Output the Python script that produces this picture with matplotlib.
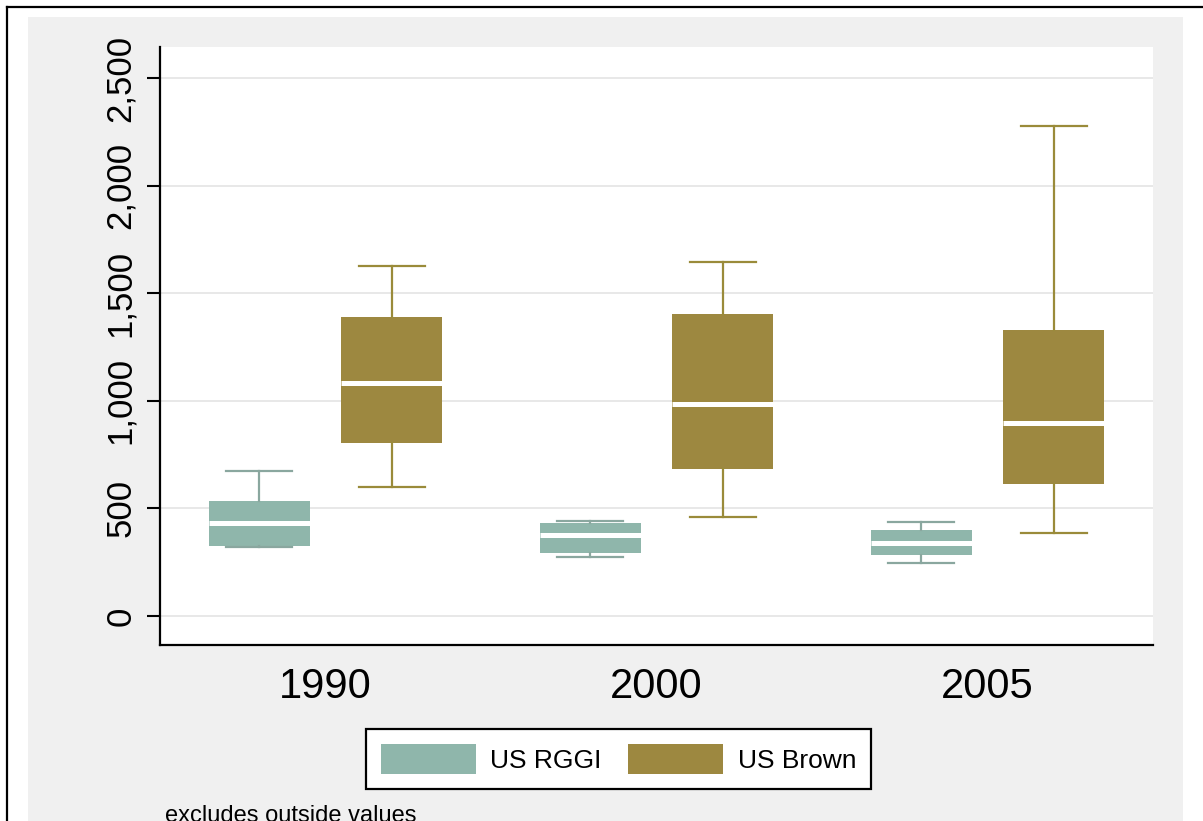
import matplotlib
matplotlib.use("Agg")
import matplotlib.pyplot as plt
from matplotlib.patches import Rectangle, Patch
from matplotlib.lines import Line2D

# Categories and five-number summaries (whisker low, Q1, median, Q3, whisker high)
years = ["1990", "2000", "2005"]

rggi_whislo = [320, 276, 245]
rggi_q1 = [326, 294, 283]
rggi_med = [432, 376, 341]
rggi_q3 = [534, 431, 400]
rggi_whishi = [674, 441, 435]

brown_whislo = [599, 461, 384]
brown_q1 = [804, 682, 613]
brown_med = [1081, 984, 898]
brown_q3 = [1391, 1402, 1329]
brown_whishi = [1628, 1646, 2277]

y_ticks = [0, 500, 1000, 1500, 2000, 2500]
y_ticklabels = ["0", "500", "1,000", "1,500", "2,000", "2,500"]

series_names = ["US RGGI", "US Brown"]
fill_colors = ["#8fb6ab", "#9d8840"]
whisker_colors = ["#8aa79f", "#9a8b3a"]

FONT = ["Liberation Sans", "DejaVu Sans"]

W, H = 1203, 821
fig = plt.figure(figsize=(W / 100, H / 100), dpi=100, facecolor="white")

# Graph region background and outer frame
fig.patches.append(Rectangle((28 / W, 0), (1183 - 28) / W, 1 - 17 / H,
                             transform=fig.transFigure, facecolor="#f0f0f0",
                             edgecolor="none", zorder=-5))
fig.lines.append(Line2D([7 / W, 7 / W], [0, 1 - 7 / H], transform=fig.transFigure,
                        color="black", lw=1.6, zorder=-4))
fig.lines.append(Line2D([7 / W, 1], [1 - 7 / H, 1 - 7 / H], transform=fig.transFigure,
                        color="black", lw=1.6, zorder=-4))

ax = fig.add_axes([160 / W, (H - 645) / H, (1153 - 160) / W, (645 - 47) / H])
ax.set_facecolor("white")
ax.set_zorder(1)


def stats(lo, q1, med, q3, hi):
    return [dict(whislo=a, q1=b, med=c, q3=d, whishi=e, fliers=[])
            for a, b, c, d, e in zip(lo, q1, med, q3, hi)]


groups = [
    stats(rggi_whislo, rggi_q1, rggi_med, rggi_q3, rggi_whishi),
    stats(brown_whislo, brown_q1, brown_med, brown_q3, brown_whishi),
]
offsets = [-0.2, 0.2]
centers = list(range(1, len(years) + 1))

for s, off, fc, wc in zip(groups, offsets, fill_colors, whisker_colors):
    ax.bxp(s, positions=[c + off for c in centers], widths=0.305,
           capwidths=0.2, patch_artist=True, showfliers=False,
           boxprops=dict(facecolor=fc, edgecolor=fc, linewidth=0),
           medianprops=dict(color="white", linewidth=3.6, solid_capstyle="butt"),
           whiskerprops=dict(color=wc, linewidth=1.6),
           capprops=dict(color=wc, linewidth=1.6),
           manage_ticks=False, zorder=3)

ax.set_xlim(0.5, 3.5)
ax.set_ylim(-135, 2644)

ax.set_yticks(y_ticks)
ax.set_yticklabels(y_ticklabels, rotation=90, va="center", family=FONT, fontsize=25)
ax.set_xticks(centers)
ax.set_xticklabels(years, family=FONT, fontsize=30)
ax.tick_params(axis="x", length=0, pad=16)
ax.tick_params(axis="y", length=9.4, width=1.5, pad=7, direction="out")

ax.grid(axis="y", color="#e4e4e4", linewidth=1.2, zorder=0)
ax.set_axisbelow(True)
for side in ["top", "right"]:
    ax.spines[side].set_visible(False)
for side in ["left", "bottom"]:
    ax.spines[side].set_linewidth(1.6)
    ax.spines[side].set_color("black")

handles = [Patch(facecolor=c, edgecolor="none") for c in fill_colors]
leg = fig.legend(handles, series_names, loc="center",
                 bbox_to_anchor=(618.5 / W, 1 - 759 / H), ncol=2,
                 prop=dict(family=FONT, size=19), frameon=True, fancybox=False,
                 framealpha=1.0, handlelength=3.6, handleheight=1.4,
                 handletextpad=0.55, columnspacing=1.0, borderpad=0.55,
                 borderaxespad=0)
leg.get_frame().set_edgecolor("black")
leg.get_frame().set_linewidth(1.6)
leg.get_frame().set_facecolor("white")

fig.text(165 / W, -1 / H, "excludes outside values", family=FONT, fontsize=17,
         ha="left", va="baseline")

fig.savefig("out.png", dpi=100, facecolor="white")
